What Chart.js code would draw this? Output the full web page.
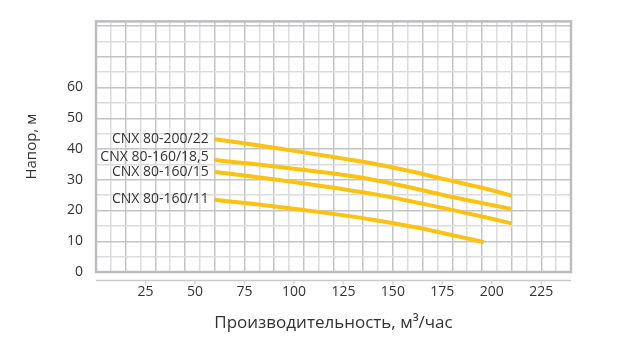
<!DOCTYPE html>
<html>
<head>
<meta charset="utf-8">
<script src="https://cdn.jsdelivr.net/npm/chart.js@4.4.1/dist/chart.umd.min.js"></script>
<style>
  html, body { margin: 0; padding: 0; background: #fff; }
  #wrap { width: 633px; height: 352px; }
</style>
</head>
<body>
<div id="wrap"><canvas id="grafico"></canvas></div>
<script>
// Данные =====================================================================

const nomes = ["CNX 80-200/22", "CNX 80-160/18,5", "CNX 80-160/15", "CNX 80-160/11"];

const q22 = [60, 80, 100, 120, 140, 160, 180, 200, 210];
const h22 = [43.2, 41.4, 39.4, 37.4, 35.3, 32.6, 29.6, 26.6, 24.8];

const q185 = [60, 80, 100, 120, 140, 160, 180, 200, 210];
const h185 = [36.4, 35.1, 33.6, 32.0, 30.0, 27.3, 24.4, 21.8, 20.5];

const q15 = [60, 80, 100, 120, 140, 160, 180, 200, 210];
const h15 = [32.5, 31.0, 29.3, 27.4, 25.4, 22.9, 20.2, 17.3, 15.8];

const q11 = [60, 80, 100, 120, 140, 160, 180, 196];
const h11 = [23.5, 22.1, 20.6, 18.9, 17.0, 14.7, 12.0, 9.7];

const xTicks = [25, 50, 75, 100, 125, 150, 175, 200, 225];
const yTicks = [0, 10, 20, 30, 40, 50, 60];

// ============================================================================

const amarelo = "#fdc10f";
const texto = "#333333";
const fonte = "'Open Sans', sans-serif";
const ajusteRotulo = [0, -3, 0, -1]; // сдвиг подписей по вертикали, px

function pontos(xs, ys) {
  return xs.map((x, i) => ({ x: x, y: ys[i] }));
}

const series = [pontos(q22, h22), pontos(q185, h185), pontos(q15, h15), pontos(q11, h11)];

const data = {
  datasets: series.map((s, i) => ({
    label: nomes[i],
    data: s,
    borderColor: amarelo,
    borderWidth: 4,
    pointRadius: 0,
    cubicInterpolationMode: "monotone",
    fill: false,
    xAxisID: "x",
  })),
};

const corGrade = (c) => (c.index % 2 === 0 ? "#c4c4c8" : "#dcdcdf");

// рамка, ось снизу и подписи кривых
const extras = {
  id: "extras",
  beforeDatasetsDraw(chart) {
    const { ctx, chartArea: a } = chart;
    ctx.save();
    ctx.strokeStyle = "#bcbcc1";
    ctx.lineWidth = 2.5;
    ctx.strokeRect(a.left, a.top, a.right - a.left, a.bottom - a.top);
    ctx.restore();
  },
  afterDatasetsDraw(chart) {
    const { ctx, chartArea: a, scales } = chart;
    ctx.save();
    const yLinha = a.bottom + 8.5;
    ctx.strokeStyle = "#c9c9cd";
    ctx.lineWidth = 1.5;
    ctx.beginPath();
    ctx.moveTo(a.left, yLinha);
    ctx.lineTo(a.right, yLinha);
    ctx.stroke();
    ctx.strokeStyle = "#d6d6d9";
    xTicks.forEach((v) => {
      const px = scales.x.getPixelForValue(v);
      ctx.beginPath();
      ctx.moveTo(px, yLinha);
      ctx.lineTo(px, yLinha + 4);
      ctx.stroke();
    });

    ctx.fillStyle = texto;
    ctx.font = "14px " + fonte;
    ctx.textAlign = "right";
    ctx.textBaseline = "middle";
    series.forEach((s, i) => {
      const px = scales.x.getPixelForValue(s[0].x) - 6;
      const py = scales.y.getPixelForValue(s[0].y) + ajusteRotulo[i];
      ctx.fillText(nomes[i], px, py);
    });
    ctx.restore();
  },
};

const config = {
  type: "line",
  data: data,
  options: {
    responsive: true,
    maintainAspectRatio: false,
    animation: false,
    layout: { padding: { top: 15, right: 62, left: 0, bottom: 0 } },
    plugins: { legend: { display: false }, tooltip: { enabled: false } },
    scales: {
      x: {
        type: "linear",
        min: 0,
        max: 240,
        position: "bottom",
        afterBuildTicks: (scale) => {
          scale.ticks = xTicks.map((v) => ({ value: v }));
        },
        afterFit: (scale) => {
          scale.height = 80;
        },
        grid: { display: false, drawTicks: false },
        border: { display: false },
        ticks: { color: texto, font: { family: fonte, size: 14 }, padding: 12, maxRotation: 0 },
        title: {
          display: true,
          text: "Производительность, м³/час",
          color: texto,
          font: { family: fonte, size: 17 },
          padding: { top: 0, bottom: 19 },
        },
      },
      xGrade: {
        type: "linear",
        min: 0,
        max: 240,
        position: "bottom",
        display: true,
        afterBuildTicks: (scale) => {
          const t = [];
          for (let v = 0; v <= 240; v += 7.5) t.push({ value: v });
          scale.ticks = t;
        },
        afterFit: (scale) => {
          scale.height = 0;
        },
        ticks: { display: false, autoSkip: false },
        border: { display: false },
        grid: { drawTicks: false, lineWidth: 1.5, color: corGrade },
      },
      y: {
        type: "linear",
        min: 0,
        max: 81.5,
        afterBuildTicks: (scale) => {
          const t = [];
          for (let v = 0; v <= 80; v += 5) t.push({ value: v });
          scale.ticks = t;
        },
        afterFit: (scale) => {
          scale.width = 96;
        },
        border: { display: false },
        grid: { drawTicks: false, lineWidth: 1.5, color: corGrade },
        ticks: {
          color: texto,
          font: { family: fonte, size: 14 },
          padding: 13,
          autoSkip: false,
          callback: (v) => (yTicks.includes(v) ? v : ""),
        },
        title: {
          display: true,
          text: "Напор, м",
          color: texto,
          font: { family: fonte, size: 15 },
          padding: { top: 23, bottom: 0 },
        },
      },
    },
  },
  plugins: [extras],
};

const grafico = new Chart(document.getElementById("grafico"), config);
</script>
</body>
</html>
